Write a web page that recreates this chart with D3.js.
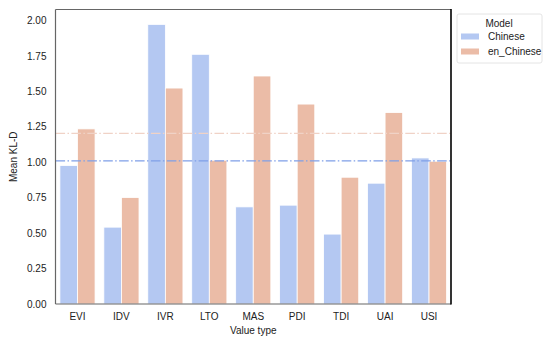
<!DOCTYPE html>
<html>
<head>
<meta charset="utf-8">
<script src="https://cdn.jsdelivr.net/npm/d3@7"></script>
<style>
  body { margin: 0; background: #fff; }
  text { font-family: "Liberation Sans", Arial, sans-serif; fill: #222; }
</style>
</head>
<body>
<svg id="chart" width="545" height="342"></svg>
<script>
// Value types on the x axis
const categories = ["EVI", "IDV", "IVR", "LTO", "MAS", "PDI", "TDI", "UAI", "USI"];
// Model series
const models = ["Chinese", "en_Chinese"];
// Mean KL-D per value type for each model
const chineseValues = [0.977, 0.542, 1.972, 1.761, 0.685, 0.697, 0.493, 0.852, 1.030];
const enChineseValues = [1.235, 0.751, 1.523, 1.014, 1.608, 1.410, 0.894, 1.350, 1.007];
// Reference (mean) levels drawn as dash-dot lines
const referenceLevels = [1.01, 1.204];
// Y tick values
const yTicks = [0, 0.25, 0.5, 0.75, 1.0, 1.25, 1.5, 1.75, 2.0];

const colors = { "Chinese": "#b4c8f2", "en_Chinese": "#ebbca7" };
const refColors = ["#7f9fe8", "#f0d2c6"];

const margin = { left: 55.5, right: 94, top: 9.5, bottom: 38 };
const W = 545, H = 342;
const svg = d3.select("#chart");

const x = d3.scaleBand().domain(categories).range([margin.left, W - margin.right]).paddingInner(0.2).paddingOuter(0.1);
const xInner = d3.scaleBand().domain(models).range([0, x.bandwidth()]);
const y = d3.scaleLinear().domain([0, 2.077]).range([H - margin.bottom, margin.top]);

const rows = categories.map((c, i) => ({ cat: c, vals: [
  { model: "Chinese", v: chineseValues[i] },
  { model: "en_Chinese", v: enChineseValues[i] }
]}));

// Bars
svg.append("g").selectAll("g").data(rows).join("g")
  .attr("transform", d => `translate(${x(d.cat)},0)`)
  .selectAll("rect").data(d => d.vals).join("rect")
  .attr("x", d => xInner(d.model))
  .attr("width", xInner.bandwidth())
  .attr("y", d => y(d.v))
  .attr("height", d => y(0) - y(d.v))
  .attr("fill", d => colors[d.model])
  .attr("stroke", "#fff")
  .attr("stroke-width", 0.8);

// Reference lines
svg.append("g").selectAll("line").data(referenceLevels).join("line")
  .attr("x1", margin.left).attr("x2", W - margin.right)
  .attr("y1", d => y(d)).attr("y2", d => y(d))
  .attr("stroke", (d, i) => refColors[i])
  .attr("stroke-width", 1.2)
  .attr("stroke-dasharray", "9.6,2.4,1.5,2.4");

// Axes
const yAxis = d3.axisLeft(y).tickValues(yTicks).tickFormat(d3.format(".2f")).tickSize(0).tickPadding(9);
const gy = svg.append("g").attr("transform", `translate(${margin.left},0)`).call(yAxis);
gy.select(".domain").remove();
gy.selectAll("text").style("font-size", "10px").style("font-family", "Liberation Sans, Arial, sans-serif").attr("fill", "#222");

const xAxis = d3.axisBottom(x).tickSize(0).tickPadding(9);
const gx = svg.append("g").attr("transform", `translate(0,${H - margin.bottom})`).call(xAxis);
gx.select(".domain").remove();
gx.selectAll("text").style("font-size", "10px").style("font-family", "Liberation Sans, Arial, sans-serif").attr("fill", "#222");

// Frame
const x0 = margin.left, x1 = W - margin.right, y0 = margin.top, y1 = H - margin.bottom;
svg.append("line").attr("x1", x0).attr("x2", x0).attr("y1", y0).attr("y2", y1).attr("stroke", "#666").attr("stroke-width", 1.2);
svg.append("line").attr("x1", x0).attr("x2", x1).attr("y1", y1).attr("y2", y1).attr("stroke", "#666").attr("stroke-width", 1.2);
svg.append("line").attr("x1", x0).attr("x2", x1).attr("y1", y0).attr("y2", y0).attr("stroke", "#666").attr("stroke-width", 1.2);
svg.append("line").attr("x1", x1).attr("x2", x1).attr("y1", y0 - 0.6).attr("y2", y1 + 0.6).attr("stroke", "#000").attr("stroke-width", 1.6);

// Axis titles
svg.append("text").attr("x", (x0 + x1) / 2).attr("y", 334).attr("text-anchor", "middle").style("font-size", "10px").text("Value type");
svg.append("text").attr("transform", `translate(17,${(y0 + y1) / 2}) rotate(-90)`).attr("text-anchor", "middle").style("font-size", "10px").text("Mean KL-D");

// Legend
const lg = svg.append("g").attr("transform", "translate(457,14)");
lg.append("rect").attr("width", 85).attr("height", 49).attr("rx", 2).attr("fill", "#fff").attr("stroke", "#ddd").attr("stroke-width", 0.8);
lg.append("text").attr("x", 42).attr("y", 12.5).attr("text-anchor", "middle").style("font-size", "10px").text("Model");
models.forEach((m, i) => {
  lg.append("rect").attr("x", 4).attr("y", 19.5 + i * 15).attr("width", 18).attr("height", 6).attr("fill", colors[m]);
  lg.append("text").attr("x", 31).attr("y", 26 + i * 15).style("font-size", "10px").text(m);
});
</script>
</body>
</html>
